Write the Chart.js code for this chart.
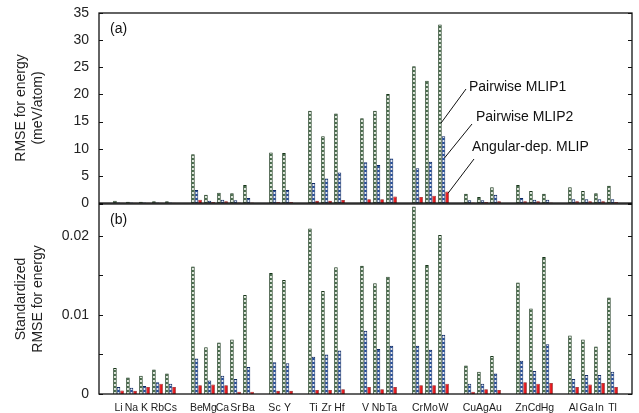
<!DOCTYPE html>
<html><head><meta charset="utf-8">
<script src="https://cdn.jsdelivr.net/npm/chart.js@4.4.1/dist/chart.umd.min.js"></script>
<style>
html,body{margin:0;padding:0;background:#fff;}
#wrap{position:relative;width:639px;height:413px;}
#wrap canvas{position:absolute;left:0;top:0;}
</style></head><body>
<div id="wrap"><canvas id="rmse" width="639" height="413"></canvas><canvas id="std" width="639" height="413"></canvas></div>
<script>
// element groups, in plot order (a blank slot goes between groups)
const groups = [['Li','Na','K','Rb','Cs'],['Be','Mg','Ca','Sr','Ba'],['Sc','Y'],['Ti','Zr','Hf'],
  ['V','Nb','Ta'],['Cr','Mo','W'],['Cu','Ag','Au'],['Zn','Cd','Hg'],['Al','Ga','In','Tl']];
const seriesNames = ['Pairwise MLIP1','Pairwise MLIP2','Angular-dep. MLIP'];

// (a) RMSE for energy, meV/atom
const rmsePair1 = [0.4,0.25,0.25,0.3,0.3, 9.0,1.5,1.9,1.8,3.3, 9.3,9.2, 17.0,12.3,16.5, 15.6,17.0,20.1, 25.2,22.5,32.9, 1.7,1.1,2.9, 3.3,2.2,1.7, 2.9,2.2,1.8,3.2];
const rmsePair2 = [0.1,0.1,0.1,0.1,0.1, 2.4,0.4,0.6,0.5,0.9, 2.4,2.4, 3.7,4.5,5.6, 7.5,7.0,8.2, 6.4,7.6,12.3, 0.5,0.5,1.5, 0.9,0.6,0.6, 0.7,0.7,0.7,0.7];
const rmseAng = [0.05,0.05,0.05,0.05,0.05, 0.6,0.2,0.3,0.1,0.1, 0.2,0.2, 0.4,0.4,0.55, 0.7,0.7,1.2, 1.1,1.35,2.1, 0.1,0.2,0.3, 0.3,0.3,0.1, 0.3,0.3,0.3,0.2];

// (b) standardized RMSE for energy
const stdPair1 = [0.0033,0.0021,0.0023,0.0031,0.0026, 0.0161,0.0059,0.0065,0.0069,0.0125, 0.0153,0.0144, 0.0209,0.0130,0.0160, 0.0162,0.0140,0.0148, 0.0237,0.0163,0.0201, 0.0036,0.0028,0.0048, 0.0141,0.0108,0.0173, 0.0074,0.0069,0.0060,0.0122];
const stdPair2 = [0.0009,0.0008,0.0010,0.0015,0.0013, 0.0045,0.0017,0.0023,0.0019,0.0034, 0.0040,0.0039, 0.0047,0.0050,0.0055, 0.0080,0.0057,0.0061, 0.0061,0.0056,0.0075, 0.0013,0.0013,0.0026, 0.0042,0.0029,0.0063, 0.0019,0.0024,0.0024,0.0028];
const stdAng = [0.00045,0.0004,0.0009,0.0013,0.0009, 0.0011,0.0012,0.0011,0.0003,0.0003, 0.0004,0.0004, 0.0005,0.0005,0.0006, 0.0009,0.0006,0.0009, 0.0011,0.0011,0.0013, 0.0003,0.0006,0.0005, 0.0015,0.0013,0.0014, 0.0009,0.0012,0.0014,0.0009];

const rmseMax = 35, rmseStep = 5;
const stdMax = 0.024, stdStep = 0.005;

const FONT = "'Liberation Sans', Arial, Helvetica, sans-serif";

// put a null slot at both ends and between groups
function pad(values) {
  const out = [null]; let k = 0;
  groups.forEach((g, gi) => {
    if (gi > 0) out.push(null);
    g.forEach(() => out.push(values[k++]));
  });
  out.push(null);
  return out;
}
const labels = pad(groups.flat()).map(v => v === null ? '' : v);

function stripes(dark, light) {
  const c = document.createElement('canvas');
  c.width = 4; c.height = 4;
  const g = c.getContext('2d');
  g.fillStyle = light; g.fillRect(0, 0, 4, 4);
  g.fillStyle = dark; g.fillRect(0, 2, 4, 2);
  return g.createPattern(c, 'repeat');
}
const styles = [
  {backgroundColor: stripes('#28522c', '#dfe8dc'), borderColor: '#173519', borderWidth: 1},
  {backgroundColor: stripes('#214f9e', '#e2e9f6'), borderColor: '#102a63', borderWidth: 1},
  {backgroundColor: '#e5161c', borderColor: '#8f1212', borderWidth: 0.8}
];

function datasets(series) {
  return series.map((vals, i) => Object.assign({
    label: seriesNames[i], data: pad(vals), borderSkipped: 'start',
    categoryPercentage: 0.82, barPercentage: 1.0
  }, styles[i]));
}

const frame = {
  id: 'frame',
  afterDraw(chart, args, opts) {
    const {ctx, chartArea: a} = chart;
    const y = chart.scales.y;
    ctx.save();
    ctx.strokeStyle = '#111'; ctx.lineWidth = 1.3;
    ctx.strokeRect(a.left, a.top, a.right - a.left, a.bottom - a.top);
    ctx.lineWidth = 1;
    y.ticks.forEach(t => {
      const py = Math.round(y.getPixelForValue(t.value)) + 0.5;
      ctx.beginPath();
      ctx.moveTo(a.left, py); ctx.lineTo(a.left + 4, py);
      ctx.moveTo(a.right, py); ctx.lineTo(a.right - 4, py);
      ctx.stroke();
    });
    ctx.fillStyle = '#111';
    ctx.font = '14px ' + FONT;
    ctx.textBaseline = 'middle';
    ctx.fillText(opts.tag, a.left + 11, a.top + 16);
    ctx.restore();
  }
};

// leader lines and labels pointing at the W bars in panel (a)
const leaders = {
  id: 'leaders',
  afterDraw(chart) {
    const {ctx} = chart;
    const y = chart.scales.y;
    const wi = labels.indexOf('W');
    const pointAt = [14.7, 8.3, 1.8];
    const from = [[466, 89], [472, 124], [474, 159]];
    const text = [[469, 87], [476, 117], [472, 147]];
    ctx.save();
    ctx.strokeStyle = '#111'; ctx.lineWidth = 1;
    ctx.fillStyle = '#111';
    ctx.font = '14px ' + FONT;
    ctx.textBaseline = 'middle';
    seriesNames.forEach((name, i) => {
      const bar = chart.getDatasetMeta(i).data[wi];
      ctx.beginPath();
      ctx.moveTo(from[i][0], from[i][1]);
      ctx.lineTo(bar.x + 1, y.getPixelForValue(pointAt[i]));
      ctx.stroke();
      ctx.fillText(name, text[i][0], text[i][1]);
    });
    ctx.restore();
  }
};

function options(o) {
  return {
    responsive: false, animation: false, devicePixelRatio: 1,
    layout: {padding: o.padding},
    plugins: {legend: {display: false}, tooltip: {enabled: false}, frame: {tag: o.tag}},
    scales: {
      x: {
        display: o.showX, offset: true,
        grid: {display: false, drawTicks: false}, border: {display: false},
        ticks: {autoSkip: false, maxRotation: 0, padding: 8, color: '#222', font: {family: FONT, size: 10.5}},
        afterFit: s => { if (o.showX) s.height = 19; s.paddingLeft = 0; s.paddingRight = 0; }
      },
      y: {
        min: 0, max: o.max,
        grid: {display: false, drawTicks: false}, border: {display: false},
        ticks: {stepSize: o.step, padding: 10, color: '#222', font: {family: FONT, size: 14}, callback: o.fmt},
        title: {display: true, text: o.title, color: '#222', font: {family: FONT, size: 14}, padding: {top: 13, bottom: 0}},
        afterFit: s => { s.width = 99; s.paddingTop = 0; s.paddingBottom = 0; }
      }
    }
  };
}

new Chart(document.getElementById('rmse'), {
  type: 'bar',
  data: {labels, datasets: datasets([rmsePair1, rmsePair2, rmseAng])},
  options: options({
    padding: {top: 13, bottom: 210, left: 0, right: 7}, tag: '(a)', showX: false,
    max: rmseMax, step: rmseStep, fmt: v => String(v),
    title: ['RMSE for energy', '(meV/atom)']
  }),
  plugins: [frame, leaders]
});

new Chart(document.getElementById('std'), {
  type: 'bar',
  data: {labels, datasets: datasets([stdPair1, stdPair2, stdAng])},
  options: options({
    padding: {top: 204, bottom: 0, left: 0, right: 7}, tag: '(b)', showX: true,
    max: stdMax, step: stdStep,
    fmt: v => (Math.round(v * 1000) % 10 === 0 ? String(+v.toFixed(3)) : ''),
    title: ['Standardized', 'RMSE for energy']
  }),
  plugins: [frame]
});
</script>
</body></html>
